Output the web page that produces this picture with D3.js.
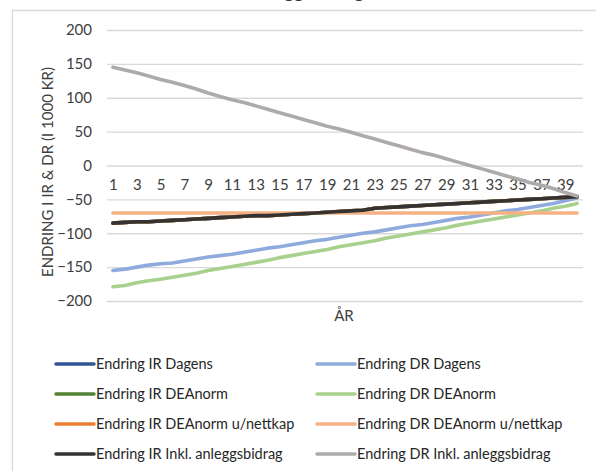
<!DOCTYPE html>
<html><head><meta charset="utf-8">
<script src="https://cdn.jsdelivr.net/npm/d3@7/dist/d3.min.js"></script>
<style>body{margin:0;background:#fff}svg{display:block}</style>
</head><body>
<svg id="chart" width="596" height="471"></svg>
<script>
const categories = [1,2,3,4,5,6,7,8,9,10,11,12,13,14,15,16,17,18,19,20,21,22,23,24,25,26,27,28,29,30,31,32,33,34,35,36,37,38,39,40];
const xTickLabels = [1,3,5,7,9,11,13,15,17,19,21,23,25,27,29,31,33,35,37,39];
const yTicks = [-200,-150,-100,-50,0,50,100,150,200];

const irInkl = [-85,-84,-83,-83,-82,-81,-80,-79,-78,-77,-76,-75,-74,-74,-73,-72,-71,-70,-69,-68,-67,-66,-63,-62,-61,-60,-59,-58,-57,-56,-55,-54,-53,-52,-51,-50,-49,-48,-47,-46];
const drInkl = [145,141,137,132,127,123,118,113,107,102,97,93,88,83,78,73,68,63,58,54,49,44,39,34,29,24,19,15,10,5,0,-5,-10,-15,-20,-25,-29,-34,-40,-45];
const irDagens = irInkl.slice();
const drDagens = [-155,-153,-150,-147,-145,-144,-141,-138,-135,-133,-131,-128,-125,-122,-120,-117,-114,-111,-109,-106,-103,-100,-98,-95,-92,-89,-87,-84,-81,-78,-76,-73,-70,-67,-65,-62,-59,-56,-52,-48];
const irDEAnorm = irInkl.slice();
const drDEAnorm = [-179,-177,-173,-170,-168,-165,-162,-159,-155,-152,-149,-146,-143,-140,-136,-133,-130,-127,-124,-120,-117,-114,-111,-107,-104,-101,-98,-95,-92,-88,-85,-82,-79,-76,-73,-70,-67,-63,-60,-56];
const irNettkap = irInkl.slice();
const drNettkap = [-70,-70,-70,-70,-70,-70,-70,-70,-70,-70,-70,-70,-70,-70,-70,-70,-70,-70,-70,-70,-70,-70,-70,-70,-70,-70,-70,-70,-70,-70,-70,-70,-70,-70,-70,-70,-70,-70,-70,-70];

const seriesNames = ["Endring IR Dagens","Endring DR Dagens","Endring IR DEAnorm","Endring DR DEAnorm","Endring IR DEAnorm u/nettkap","Endring DR DEAnorm u/nettkap","Endring IR Inkl. anleggsbidrag","Endring DR Inkl. anleggsbidrag"];
const seriesValues = [irDagens, drDagens, irDEAnorm, drDEAnorm, irNettkap, drNettkap, irInkl, drInkl];
const seriesColors = ["#2f5597","#8faadc","#548235","#a9d18e","#ed7d31","#f4b183","#333333","#aeaaaa"];

const yTitle = "ENDRING I IR & DR (I 1000 KR)";
const xTitle = "ÅR";
const chartTitle = "Anleggsbidrag";

const FONT = "Lato, 'Open Sans', sans-serif";
const svg = d3.select("#chart");

// outer frame
svg.append("path").attr("d","M12.5,471V10.5H596").attr("fill","none").attr("stroke","#d9d9d9").attr("stroke-width",1.3);

// title (cut off at the top edge, only descenders visible as in the reference)
svg.append("text").attr("x",246).attr("y",-2.5).attr("font-family",FONT).attr("font-size",19)
  .attr("fill","#333").text(chartTitle);

const x = d3.scalePoint().domain(categories).range([107,583]).padding(0.5);
const y = d3.scaleLinear().domain([-200,200]).range([301,30]);

// gridlines
svg.append("g").selectAll("line").data(yTicks).join("line")
  .attr("x1",107).attr("x2",583).attr("y1",d=>y(d)+0.5).attr("y2",d=>y(d)+0.5)
  .attr("stroke","#d9d9d9").attr("stroke-width",1.3);

// y axis
const gy = svg.append("g").attr("transform","translate(107,0)")
  .call(d3.axisLeft(y).tickValues(yTicks).tickSize(0).tickPadding(15));
gy.select(".domain").remove();
gy.selectAll("text").attr("font-family",FONT).attr("font-size",15).attr("fill","#404040");

// x axis at zero
const gx = svg.append("g").attr("transform",`translate(0,${y(0)})`)
  .call(d3.axisBottom(x).tickValues(xTickLabels).tickSize(0).tickPadding(14));
gx.select(".domain").remove();
gx.selectAll("text").attr("font-family",FONT).attr("font-size",15).attr("fill","#404040");

// lines
const line = d3.line().x((d,i)=>x(categories[i])).y(d=>y(d));
svg.append("g").selectAll("path").data(seriesValues).join("path")
  .attr("d",d=>line(d)).attr("fill","none")
  .attr("stroke",(d,i)=>seriesColors[i]).attr("stroke-width",3.6)
  .attr("stroke-linecap","round").attr("stroke-linejoin","round");

// axis titles
svg.append("text").attr("transform","translate(53,172) rotate(-90)")
  .attr("text-anchor","middle").attr("font-family",FONT).attr("font-size",15).attr("fill","#404040").text(yTitle);
svg.append("text").attr("x",344).attr("y",321).attr("text-anchor","middle")
  .attr("font-family",FONT).attr("font-size",15).attr("fill","#404040").text(xTitle);

// legend
const lg = svg.append("g");
seriesNames.forEach((name,i)=>{
  const col = i%2, row = Math.floor(i/2);
  const lx = col===0 ? 56 : 317;
  const ly = 364 + row*30;
  lg.append("line").attr("x1",lx).attr("x2",lx+38).attr("y1",ly).attr("y2",ly)
    .attr("stroke",seriesColors[i]).attr("stroke-width",3.5).attr("stroke-linecap","round");
  lg.append("text").attr("x",lx+40).attr("y",ly).attr("dy","0.35em")
    .attr("font-family",FONT).attr("font-size",14.5).attr("fill","#262626").text(name);
});
</script>
</body></html>
